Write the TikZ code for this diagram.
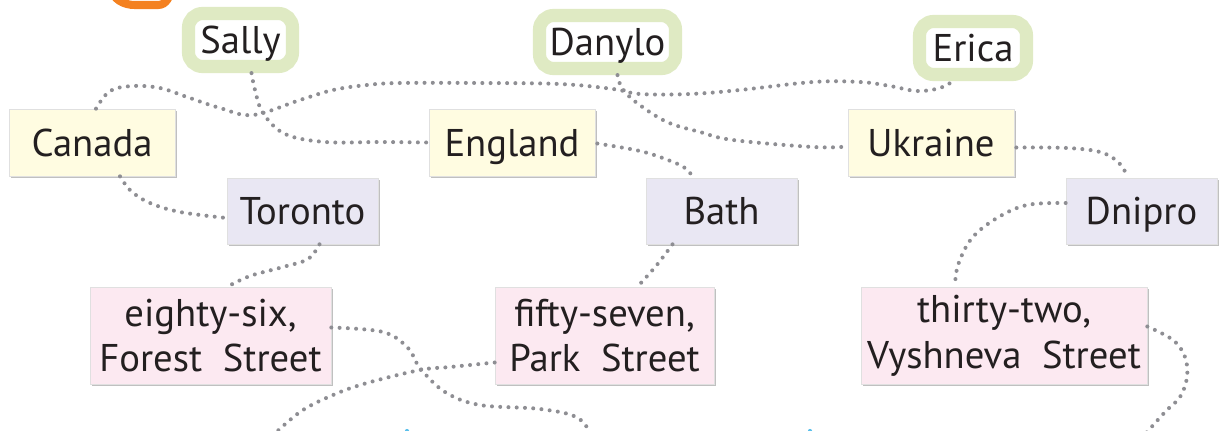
\documentclass[tikz,border=0pt]{standalone}
\usepackage{fontspec}
\setmainfont{PT Sans}
\usetikzlibrary{calc,shadows}

\definecolor{namegreen}{HTML}{DFEAC3}
\definecolor{countryfill}{HTML}{FFFCE1}
\definecolor{cityfill}{HTML}{E9E7F3}
\definecolor{addrfill}{HTML}{FCE9F1}
\definecolor{dotgray}{HTML}{8E8E93}
\definecolor{inkblack}{HTML}{231F20}
\definecolor{titleorange}{HTML}{F48120}
\definecolor{bitblue}{HTML}{5BC0EB}

\begin{document}
\begin{tikzpicture}[x=0.02cm, y=-0.02cm,
    every node/.style={text=inkblack, font=\fontsize{22}{26}\selectfont},
    oneline/.style={text height=15.4pt, text depth=0pt},
    namebox/.style={oneline, draw=namegreen, line width=7.5pt, fill=white, rounded corners=8pt,
        minimum height=1.06cm, inner sep=0pt},
    card/.style={draw=black!12, line width=0.4pt, inner sep=0pt,
        drop shadow={shadow xshift=1pt, shadow yshift=-1.2pt, opacity=.45, fill=black!55}},
    countrybox/.style={card, oneline, fill=countryfill, minimum width=3.32cm, minimum height=1.34cm},
    citybox/.style={card, oneline, fill=cityfill, minimum width=3.02cm, minimum height=1.32cm},
    addrbox/.style={card, fill=addrfill, minimum height=1.94cm, align=center},
    dotline/.style={draw=dotgray, line width=2.3pt, line cap=round, dash pattern=on 0pt off 4.7pt}]
    \useasboundingbox (0,0) rectangle (1219,430);
    \clip (0,0) rectangle (1219,430);

    % names
    \node[namebox, minimum width=2.08cm] (sally) at (240.5,40) {Sally};
    \node[namebox, minimum width=2.72cm] (danylo) at (607.5,42) {Danylo};
    \node[namebox, minimum width=2.14cm] (erica) at (973,48) {Erica};

    % countries, cities, addresses
    \node[countrybox] (canada) at (92,142.5) {Canada};
    \node[countrybox] (england) at (512,142.5) {England};
    \node[countrybox] (ukraine) at (931,142.5) {Ukraine};

    \node[citybox] (toronto) at (302.5,211) {Toronto};
    \node[citybox] (bath) at (721.5,211) {Bath};
    \node[citybox] (dnipro) at (1141.5,211) {Dnipro};

    \node[addrbox, minimum width=4.82cm] (eightysix) at (210.5,335.5) {eighty-six,\\Forest\ \ Street};
    \node[addrbox, minimum width=4.38cm] (fiftyseven) at (604.5,335.5) {fifty-seven,\\Park\ \ Street};
    \node[addrbox, minimum width=5.72cm] (thirtytwo) at (1004,335.5) {thirty-two,\\Vyshneva\ \ Street};

    \coordinate (outA) at (594,440);
    \coordinate (outB) at (268,440);
    \coordinate (outC) at (1140,440);

    % dotted connectors
    \draw[dotline] plot[smooth, tension=.6] coordinates {($(sally.south)+(11,0)$) (255,90) (263,113) (285,134) (325,142) (380,142) (england.west)};
    \draw[dotline] plot[smooth, tension=.6] coordinates {($(canada.north)+(4,0)$) (110,91) (133,86) (160,88) (187,97) (220,108) (253,115) (300,100) (333,90) (367,85) (400,83) (480,83) (560,84) (613,89) (640,94) (690,94) (740,90) (813,82) (860,82) (890,86) (917,91) (940,88) ($(erica.south)+(-20,0)$)};
    \draw[dotline] plot[smooth, tension=.6] coordinates {($(canada.south)+(28,0)$) (131,191) (150,203) (180,212) ($(toronto.west)+(0,7)$)};
    \draw[dotline] plot[smooth, tension=.6] coordinates {($(toronto.south)+(17,0)$) (308,259) (283,267) (250,276) ($(eightysix.north)+(17,0)$)};
    \draw[dotline] plot[smooth, tension=.6] coordinates {($(eightysix.east)+(0,-8)$) (383,332) (408,348) (420,368) (445,392) (480,405) (540,409) (578,418) (outA)};
    \draw[dotline] plot[smooth, tension=.6] coordinates {($(fiftyseven.west)+(0,27)$) (450,367) (420,370) (367,383) (333,395) (300,412) (outB)};
    \draw[dotline] plot[smooth, tension=.6] coordinates {($(england.east)+(2,1)$) (640,151) (668,160) (685,168) ($(bath.north)+(-28,0)$)};
    \draw[dotline] plot[smooth, tension=.6] coordinates {($(bath.south)+(-49,0)$) (656,266) ($(fiftyseven.north)+(33,0)$)};
    \draw[dotline] plot[smooth, tension=.6] coordinates {($(danylo.south)+(10,0)$) (622,88) (637,103) (667,122) (700,132) (733,140) (813,147) ($(ukraine.west)+(0,4)$)};
    \draw[dotline] plot[smooth, tension=.6] coordinates {($(ukraine.east)+(2,5)$) (1067,148) (1100,152) (1118,162) ($(dnipro.north)+(-13,0)$)};
    \draw[dotline] plot[smooth, tension=.6] coordinates {($(dnipro.west)+(0,-8)$) (1027,205) (997,218) (972,238) (958,265) ($(thirtytwo.north)+(-49,0)$)};
    \draw[dotline] plot[smooth, tension=.6] coordinates {($(thirtytwo.east)+(0,-9)$) (1173,340) (1185,357) (1187,377) (1180,397) (1165,412) (outC)};

    % cut-off bits at the edges
    \draw[titleorange, line width=4.6pt, line cap=round] (111,-12) to[out=-80,in=180] (135,5) -- (158,5) to[out=0,in=-95] (171,-12);
    \fill[bitblue] (407,431) circle (1.2pt);
    \fill[bitblue] (810,431) circle (1.2pt);
\end{tikzpicture}
\end{document}
